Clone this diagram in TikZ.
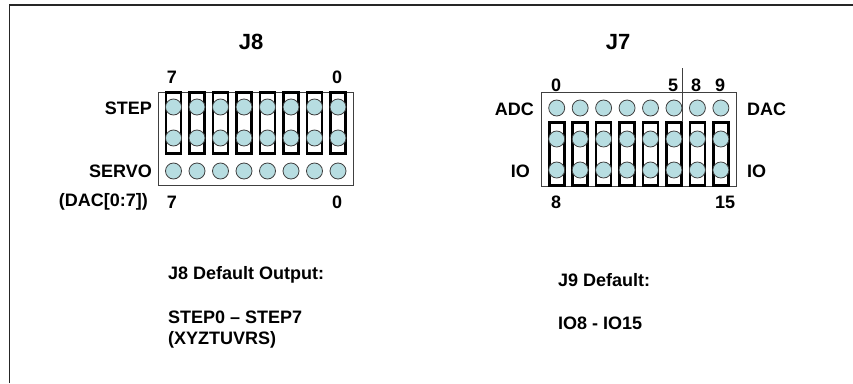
\documentclass[tikz,border=0pt]{standalone}
\usepackage{fontspec}
\setmainfont{Liberation Sans}
\tikzset{
  pin/.style={circle,draw=black!75,line width=0.8pt,fill=pinfill,minimum size=16pt,inner sep=0pt},
  jumper/.style={draw=black,line width=2.7pt,minimum width=15pt,inner sep=0pt},
  header/.style={draw=black!75,line width=0.8pt,inner sep=0pt},
  lab/.style={font=\bfseries\fontsize{18}{20}\selectfont,inner sep=0pt},
  title/.style={font=\bfseries\fontsize{22}{24}\selectfont,inner sep=0pt},
  note/.style={font=\bfseries\fontsize{18}{20.5}\selectfont,inner sep=0pt,anchor=north west,align=left},
}
\definecolor{pinfill}{RGB}{183,221,225}
\begin{document}
\begin{tikzpicture}[x=1pt,y=-1pt]
\useasboundingbox (0,0) rectangle (853,383);
\coordinate (bl) at (9.5,383);
\coordinate (tl) at (9.5,5);
\coordinate (tr) at (853,5);
\draw[black!85,line width=1.5pt] (bl) -- (tl) -- (tr);
% J8
\node[header,minimum width=195pt,minimum height=93pt] (h8) at (255.5,138.5) {};
\foreach \i in {0,...,7}{
  \pgfmathsetmacro{\xx}{173.5+23.5*\i}
  \node[jumper,minimum height=61pt] (ja\i) at (\xx,123) {};
  \node[pin] (pa\i) at (\xx,107) {};
  \node[pin] (pb\i) at (\xx,138) {};
  \node[pin] (pc\i) at (\xx,171) {};
}
\node[title] (t8) at (251,42) {J8};
\node[lab] (n7a) at (172,77) {7};
\node[lab] (n0a) at (337,77) {0};
\node[lab,anchor=east] (step) at (152,108) {STEP};
\node[lab,anchor=east] (servo) at (152,171) {SERVO};
\node[lab,anchor=east] (dac8) at (148,202) {(DAC[0:7])};
\node[lab] (n7b) at (172,202) {7};
\node[lab] (n0b) at (337,202) {0};
% J7
\node[header,minimum width=195pt,minimum height=94pt] (h7) at (638.5,139) {};
\foreach \i in {0,...,7}{
  \pgfmathsetmacro{\xx}{556.7+23.45*\i}
  \node[jumper,minimum height=63pt] (jb\i) at (\xx,154) {};
  \node[pin] (qa\i) at (\xx,108) {};
  \node[pin] (qb\i) at (\xx,139) {};
  \node[pin] (qc\i) at (\xx,170) {};
}
\coordinate (divtop) at (682,68);
\coordinate (divbot) at (682,122);
\draw[black!75,line width=0.8pt] (divtop) -- (divbot);
\node[title] (t7) at (618,42) {J7};
\node[lab] (m0) at (556,85) {0};
\node[lab] (m5) at (673,85) {5};
\node[lab] (m8) at (696,85) {8};
\node[lab] (m9) at (720,85) {9};
\node[lab,anchor=east] (adc) at (534,109) {ADC};
\node[lab,anchor=west] (dac) at (747,109) {DAC};
\node[lab,anchor=east] (io1) at (530,171) {IO};
\node[lab,anchor=west] (io2) at (747,171) {IO};
\node[lab] (m8b) at (556,202) {8};
\node[lab] (m15) at (725,202) {15};
% notes
\node[note] (n1) at (168,266) {J8 Default Output:};
\node[note] (n2) at (168,311) {STEP0 – STEP7\\(XYZTUVRS)};
\node[note] (n3) at (558,273) {J9 Default:};
\node[note] (n4) at (558,317) {IO8 - IO15};
\end{tikzpicture}
\end{document}
